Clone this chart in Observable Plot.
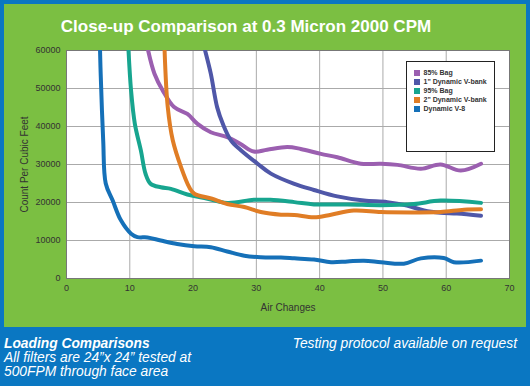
<!DOCTYPE html>
<html><head><meta charset="utf-8">
<script src="https://cdn.jsdelivr.net/npm/d3@7"></script>
<script src="https://cdn.jsdelivr.net/npm/@observablehq/plot@0.6"></script>
<style>
body{margin:0;}
#wrap{position:relative;width:530px;height:386px;background:#0a77c2;overflow:hidden;font-family:"Liberation Sans",Arial,sans-serif;}
#panel{position:absolute;left:4px;top:4px;width:522px;height:323px;background:#7bbf42;}
#title{position:absolute;left:0;top:17px;width:492px;text-align:center;color:#fff;font-weight:bold;font-size:17px;line-height:20px;}
#chart{position:absolute;left:0;top:0;}
#legend{position:absolute;left:406px;top:61px;width:89px;height:91px;background:#fff;border:1.5px solid #222;box-sizing:border-box;padding:6px 0 0 7px;}
.item{font-size:7px;font-weight:bold;color:#333;line-height:9px;height:9px;white-space:nowrap;}
.sw{display:inline-block;width:5.5px;height:5.5px;margin-right:4px;vertical-align:-0.5px;}
.foot{position:absolute;color:#fff;font-style:italic;font-size:13.8px;line-height:14px;}
</style></head>
<body>
<div id="wrap">
  <div id="panel"></div>
  <div id="title">Close-up Comparison at 0.3 Micron 2000 CPM</div>
  <div id="chart"></div>
  <div id="legend"></div>
  <div class="foot" style="left:4px;top:337px;"><b>Loading Comparisons</b><br>All filters are 24”x 24” tested at<br>500FPM through face area</div>
  <div class="foot" style="right:13px;top:337px;">Testing protocol available on request</div>
</div>
<script>
const seriesNames = ["85% Bag", "1\" Dynamic V-bank", "95% Bag", "2\" Dynamic V-bank", "Dynamic V-8"];
const seriesColors = ["#9b5fb0", "#4f57a8", "#17a58f", "#e07d25", "#1570b8"];

const bag85X = [12.9, 13.9, 15.2, 17, 19.1, 20.7, 22.8, 25.4, 27.5, 29.6, 31.7, 34.9, 37, 40.2, 42.8, 46.5, 49.7, 52.3, 56, 59.1, 62.3, 65.5];
const bag85Y = [60000, 53900, 49500, 45100, 43300, 40700, 38500, 37200, 35400, 33400, 33900, 34600, 34100, 32800, 31900, 30200, 30200, 29900, 28900, 30000, 28400, 30200];

const vbank1X = [21.9, 22.8, 23.8, 24.7, 26, 27.6, 30.2, 32.3, 36, 39.1, 42.8, 47, 50.7, 53.8, 56.5, 59.1, 61.7, 65.5];
const vbank1Y = [60000, 53900, 45100, 40700, 36300, 33700, 30200, 27600, 24900, 23300, 21600, 20500, 20100, 19200, 17900, 17300, 17100, 16500];

const bag95X = [9.8, 10.2, 10.8, 11.75, 12.5, 13.3, 14.9, 16.5, 19.1, 21.8, 25.4, 29.6, 32.2, 36, 39.1, 44.4, 49.7, 54.9, 59.1, 65.5];
const bag95Y = [60000, 49500, 40700, 33700, 27500, 24900, 24000, 23600, 22100, 21200, 19900, 20700, 20700, 20100, 19500, 19500, 19300, 19600, 20500, 19900];

const vbank2X = [15.5, 16, 16.8, 18.1, 19.4, 20.2, 23, 25.4, 28.1, 30.7, 33.9, 36, 39.1, 41.8, 45.4, 49.7, 54.9, 59.1, 62.8, 65.5];
const vbank2Y = [60000, 45100, 36300, 29300, 24000, 22300, 21000, 19600, 18800, 17500, 16800, 16700, 16100, 16800, 17900, 17500, 17400, 17500, 18100, 18200];

const v8X = [5.3, 5.4, 5.8, 6.2, 7.3, 8.6, 10.2, 11.2, 12.8, 14.9, 17.5, 20.2, 22.8, 25.4, 28.1, 30.7, 33.9, 36, 39.1, 41.8, 44.4, 47, 49.7, 53.3, 56, 59.6, 61.2, 65.5];
const v8Y = [60000, 53900, 36300, 25000, 20500, 15300, 11800, 10900, 10800, 10000, 9100, 8500, 8200, 7100, 6000, 5600, 5500, 5300, 5000, 4300, 4500, 4700, 4300, 3900, 5300, 5400, 4300, 4700];

const xTicks = [0, 10, 20, 30, 40, 50, 60, 70];
const yTicks = [0, 10000, 20000, 30000, 40000, 50000, 60000];

const seriesX = [bag85X, vbank1X, bag95X, vbank2X, v8X];
const seriesY = [bag85Y, vbank1Y, bag95Y, vbank2Y, v8Y];
const rows = [];
seriesNames.forEach((name, i) => {
  seriesX[i].forEach((x, j) => rows.push({series: name, x, y: seriesY[i][j]}));
});

const chart = Plot.plot({
  width: 530,
  height: 330,
  marginLeft: 66,
  marginRight: 21,
  marginTop: 50,
  marginBottom: 52,
  style: {background: "transparent", fontSize: "9px", color: "#333", fontFamily: "Liberation Sans, Arial, sans-serif"},
  x: {domain: [0, 70], ticks: xTicks, tickSize: 0, tickPadding: 6, label: "Air Changes", labelArrow: "none", labelAnchor: "center", labelOffset: 32},
  y: {domain: [0, 60000], ticks: yTicks, tickSize: 0, tickPadding: 6, tickFormat: d => String(d), label: "Count Per Cubic Feet", labelArrow: "none", labelAnchor: "center", labelOffset: 46},
  color: {domain: seriesNames, range: seriesColors},
  marks: [
    Plot.frame({fill: "white"}),
    Plot.gridX(xTicks, {stroke: "#aaa", strokeOpacity: 1}),
    Plot.gridY(yTicks, {stroke: "#aaa", strokeOpacity: 1}),
    Plot.frame({stroke: "#777"}),
    Plot.line(rows, {x: "x", y: "y", z: "series", stroke: "series", strokeWidth: 4, curve: "catmull-rom", clip: true})
  ]
});
chart.querySelectorAll("[aria-label='x-axis label'] text, [aria-label='y-axis label'] text").forEach(t => {
  t.style.fontSize = "10px";
  t.textContent = t.textContent.replace(/\s*[→↑←↓]\s*/g, "");
});
document.getElementById("chart").appendChild(chart);

const legend = document.getElementById("legend");
seriesNames.forEach((name, i) => {
  const d = document.createElement("div");
  d.className = "item";
  d.innerHTML = `<span class="sw" style="background:${seriesColors[i]}"></span>` + name.replace(/"/g, "&quot;");
  legend.appendChild(d);
});
</script>
</body></html>
